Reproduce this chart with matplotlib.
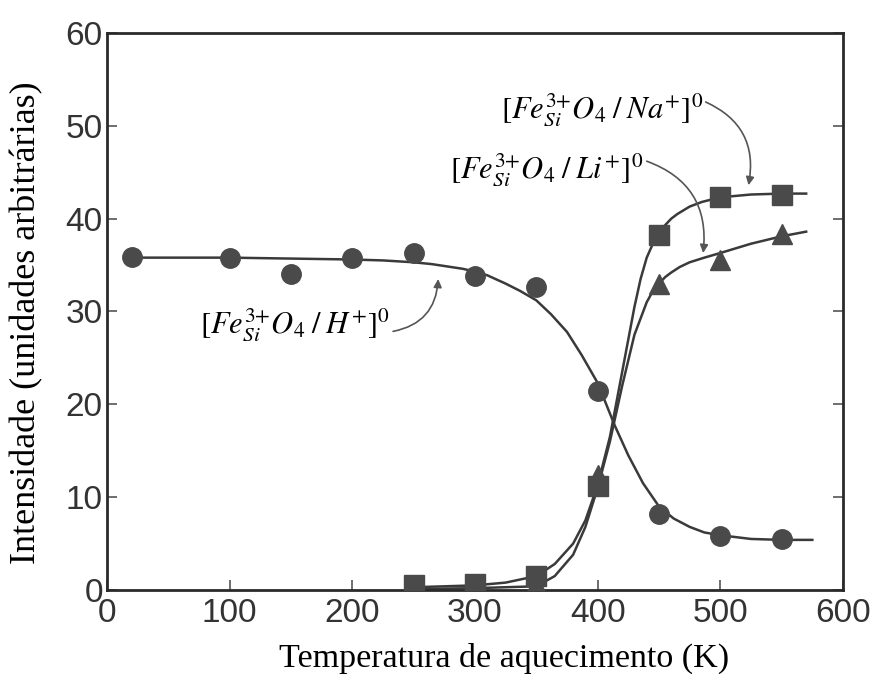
import matplotlib
matplotlib.use("Agg")
import matplotlib.pyplot as plt

# ---- data ----
h_x = [20, 100, 150, 200, 250, 300, 350, 400, 450, 500, 550]
h_y = [35.9, 35.8, 34.0, 35.8, 36.3, 33.8, 32.6, 21.4, 8.2, 5.8, 5.5]

na_x = [250, 300, 350, 400, 450, 500, 550]
na_y = [0.5, 0.7, 1.5, 11.2, 38.2, 42.3, 42.6]

li_x = [250, 300, 350, 400, 450, 500, 550]
li_y = [0.2, 0.3, 0.6, 12.4, 33.0, 35.6, 38.3]

# fitted curves
hc_x = [20, 100, 200, 225, 250, 265, 280, 290, 300, 310, 325, 337, 350, 362, 375,
        387, 400, 414, 425, 437, 450, 462, 475, 487, 500, 525, 550, 575]
hc_y = [35.8, 35.8, 35.6, 35.5, 35.3, 35.1, 34.8, 34.6, 34.3, 33.9, 33.0, 32.2, 31.2,
        29.7, 27.8, 25.3, 22.3, 17.7, 14.5, 11.5, 9.0, 7.7, 6.8, 6.2, 5.9, 5.5, 5.4, 5.4]

nac_x = [250, 300, 325, 350, 365, 380, 390, 400, 410, 420, 430, 435, 440, 445, 450,
         455, 460, 465, 475, 485, 500, 525, 550, 570]
nac_y = [0.3, 0.5, 0.8, 1.5, 2.8, 5.0, 7.5, 11.3, 16.5, 23.5, 30.5, 33.5, 35.8, 37.3,
         38.5, 39.3, 40.0, 40.5, 41.3, 41.8, 42.3, 42.6, 42.7, 42.7]

lic_x = [250, 300, 350, 365, 380, 390, 400, 410, 420, 430, 440, 445, 450, 455, 460,
         467, 475, 487, 500, 525, 550, 570]
lic_y = [0.1, 0.2, 0.4, 1.5, 3.8, 6.8, 11.0, 16.0, 22.0, 27.5, 31.0, 32.2, 33.0, 33.7,
         34.2, 34.8, 35.3, 35.8, 36.3, 37.3, 38.1, 38.6]

x_ticks = [0, 100, 200, 300, 400, 500, 600]
y_ticks = [0, 10, 20, 30, 40, 50, 60]

label_na = r'$[Fe^{3{+}}_{Si}O_4\;/\;Na^{{+}}]^0$'
label_li = r'$[Fe^{3{+}}_{Si}O_4\;/\;Li^{{+}}]^0$'
label_h = r'$[Fe^{3{+}}_{Si}O_4\;/\;H^{{+}}]^0$'

plt.rcParams['mathtext.fontset'] = 'stix'

fig = plt.figure(figsize=(8.73, 6.84), dpi=100)
ax = fig.add_axes([0.1226, 0.1374, 0.8430, 0.8144])

lc = '#3a3a3a'
mc = '#4a4a4a'

ax.plot(hc_x, hc_y, color=lc, lw=1.8, zorder=2, solid_joinstyle='round')
ax.plot(nac_x, nac_y, color=lc, lw=1.8, zorder=2, solid_joinstyle='round')
ax.plot(lic_x, lic_y, color=lc, lw=1.8, zorder=2, solid_joinstyle='round')

ax.plot(h_x, h_y, 'o', color=mc, ms=14, ls='none', zorder=3)
ax.plot(li_x, li_y, '^', color=mc, ms=14, ls='none', zorder=3)
ax.plot(na_x, na_y, 's', color=mc, ms=14, ls='none', zorder=4)

ax.set_xlim(0, 600)
ax.set_ylim(0, 60)
ax.set_xticks(x_ticks)
ax.set_yticks(y_ticks)
ax.tick_params(direction='in', length=7, width=1.2, colors='#555555',
               labelcolor='#333333', labelsize=24, right=True, top=False)
ax.tick_params(axis='x', pad=6)
ax.tick_params(axis='y', pad=3)
for lab in ax.get_xticklabels() + ax.get_yticklabels():
    lab.set_family(['Liberation Sans', 'DejaVu Sans'])

for s in ax.spines.values():
    s.set_linewidth(2.0)
    s.set_color('#2a2a2a')

ax.set_xlabel('Temperatura de aquecimento (K)', family='Liberation Serif',
              fontsize=24.5)
ax.xaxis.set_label_coords(0.54, -0.094)
ax.set_ylabel('Intensidade (unidades arbitrárias)', family='Liberation Serif',
              fontsize=26)
ax.yaxis.set_label_coords(-0.086, 0.48)

ak = dict(arrowstyle='-|>', color='#555555', lw=1.2, mutation_scale=12)
ax.annotate(label_na, xy=(523, 43.6), xytext=(321, 51.7), fontsize=22,
            va='center', ha='left',
            arrowprops=dict(ak, connectionstyle='arc3,rad=-0.4', shrinkA=0, shrinkB=0,
                            relpos=(1.0, 0.75)))
ax.annotate(label_li, xy=(486, 36.3), xytext=(280, 45.3), fontsize=22,
            va='center', ha='left',
            arrowprops=dict(ak, connectionstyle='arc3,rad=-0.4', shrinkA=0, shrinkB=0,
                            relpos=(1.0, 0.75)))
ax.annotate(label_h, xy=(270, 33.5), xytext=(76, 28.6), fontsize=22,
            va='center', ha='left',
            arrowprops=dict(ak, connectionstyle='arc3,rad=0.4', shrinkA=0, shrinkB=0,
                            relpos=(1.0, 0.3)))

fig.savefig('out.png', dpi=100)
